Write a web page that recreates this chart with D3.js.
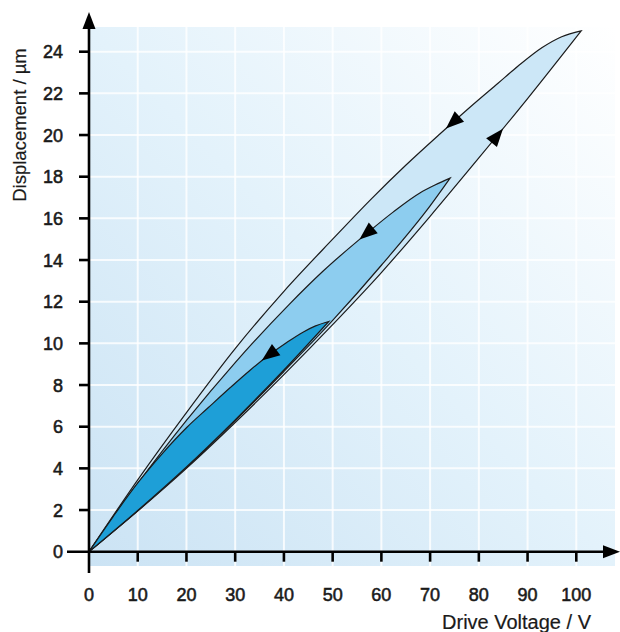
<!DOCTYPE html>
<html><head><meta charset="utf-8">
<script src="https://cdn.jsdelivr.net/npm/d3@7"></script>
<style>body{margin:0;background:#fff}svg{display:block}text{font-family:"Liberation Sans",Arial,Helvetica,sans-serif}</style>
</head><body><svg id="c" width="620" height="632"></svg>
<script>
// ---- data ----
const xTicks = [0,10,20,30,40,50,60,70,80,90,100];
const yTicks = [0,2,4,6,8,10,12,14,16,18,20,22,24];
const xGrid = [10,20,30,40,50,60,70,80,90,100,110];
const yGrid = [2,4,6,8,10,12,14,16,18,20,22,24];
// loops: ascending branch (0 -> tip) and descending branch (tip -> 0), [voltage V, displacement µm]
const largeAsc  = [[0,0],[10,1.95],[20,4.0],[30,6.2],[40,8.5],[50,10.9],[60,13.4],[70,16.1],[80,18.9],[90,21.75],[101,25]];
const largeDesc = [[101,25],[97,24.72],[93,24.2],[88,23.3],[84,22.5],[78,21.3],[72,20.05],[65,18.55],[58,16.95],[50,15.0],[40,12.5],[30,9.75],[20,6.68],[10,3.45],[0,0]];
const midAsc    = [[0,0],[10,1.97],[20,4.05],[30,6.3],[40,8.65],[50,11.1],[60,13.75],[70,16.6],[74.1,17.93]];
const midDesc   = [[74.1,17.93],[71,17.6],[67.9,17.22],[62.4,16.3],[57,15.28],[48,13.46],[41,11.85],[30,9.08],[20,6.3],[10,3.27],[0,0]];
const smallAsc  = [[0,0],[10,1.98],[20,4.07],[30,6.33],[40,8.72],[49.2,11.05]];
const smallDesc = [[49.2,11.05],[46.5,10.84],[44,10.55],[40.5,10.03],[37,9.45],[33,8.7],[29,7.88],[24.5,6.92],[20,5.95],[15,4.7],[10,3.3],[5,1.7],[0,0]];
// arrows: [loop, branch, voltage]
const arrowSpecs = [["large","desc",74.7],["large","asc",83.7],["mid","desc",57],["small","desc",37]];

const loops = {
  large:{asc:largeAsc, desc:largeDesc, fill:"#cce7f7"},
  mid:{asc:midAsc, desc:midDesc, fill:"#8dcdef"},
  small:{asc:smallAsc, desc:smallDesc, fill:"#1e9fd7"}
};

const svg = d3.select("#c");
const x = d3.scaleLinear().domain([0,100]).range([89,576.3]);
const y = d3.scaleLinear().domain([0,24]).range([551.7,51.7]);

// background gradient
const defs = svg.append("defs");
const g = defs.append("linearGradient").attr("id","bg").attr("x1",0).attr("y1",1).attr("x2",1).attr("y2",0);
g.append("stop").attr("offset",0).attr("stop-color","#cbe3f4");
g.append("stop").attr("offset",0.5).attr("stop-color","#e3f2fb");
g.append("stop").attr("offset",1).attr("stop-color","#ffffff");
svg.append("rect").attr("x",x(0)).attr("y",27).attr("width",615-x(0)).attr("height",566-27).attr("fill","url(#bg)");

// grid
svg.append("g").selectAll("line").data(xGrid).join("line")
  .attr("x1",d=>x(d)).attr("x2",d=>x(d)).attr("y1",27).attr("y2",566)
  .attr("stroke","#fff").attr("stroke-width",2).attr("stroke-opacity",0.8);
svg.append("g").selectAll("line").data(yGrid).join("line")
  .attr("y1",d=>y(d)).attr("y2",d=>y(d)).attr("x1",x(0)).attr("x2",615)
  .attr("stroke","#fff").attr("stroke-width",2).attr("stroke-opacity",0.8);

// loops
const line = d3.line().x(d=>x(d[0])).y(d=>y(d[1])).curve(d3.curveMonotoneX);
for (const k of ["large","mid","small"]) {
  const L = loops[k];
  const a = line(L.asc), b = line(L.desc).replace(/^M/,"L");
  svg.append("path").attr("d", a + b + "Z").attr("fill",L.fill)
    .attr("stroke","#1b1b1b").attr("stroke-width",1.2).attr("stroke-linejoin","miter");
}

// arrows on branches
const tmp = svg.append("path").attr("fill","none").attr("stroke","none");
for (const [k,br,v] of arrowSpecs) {
  tmp.attr("d", line(loops[k][br]));
  const node = tmp.node(), tot = node.getTotalLength();
  const tx = x(v);
  let best = 0, bd = 1e9;
  for (let l=0; l<=tot; l+=0.5) { const p = node.getPointAtLength(l); const dd=Math.abs(p.x-tx); if (dd<bd){bd=dd;best=l;} }
  const p = node.getPointAtLength(best);
  const p1 = node.getPointAtLength(Math.max(0,best-3)), p2 = node.getPointAtLength(Math.min(tot,best+3));
  let dx = p2.x-p1.x, dy = p2.y-p1.y; const n = Math.hypot(dx,dy); dx/=n; dy/=n;
  const nx = -dy, ny = dx;
  const tip = [p.x+dx*9.5, p.y+dy*9.5], bc = [p.x-dx*8.5, p.y-dy*8.5];
  const pts = [tip,[bc[0]+nx*7, bc[1]+ny*7],[bc[0]-nx*7, bc[1]-ny*7]];
  svg.append("path").attr("d","M"+pts.map(q=>q.join(",")).join("L")+"Z").attr("fill","#000");
}
tmp.remove();

// axes
const ax = svg.append("g").attr("stroke","#000").attr("stroke-width",2.6);
ax.append("line").attr("x1",x(0)).attr("x2",x(0)).attr("y1",573).attr("y2",24);
ax.append("line").attr("x1",67).attr("x2",608).attr("y1",y(0)).attr("y2",y(0));
svg.append("path").attr("d",`M${x(0)},12L${x(0)-6.5},29L${x(0)+6.5},29Z`).attr("fill","#000");
svg.append("path").attr("d",`M620,${y(0)}L603,${y(0)-6.5}L603,${y(0)+6.5}Z`).attr("fill","#000");

// ticks
ax.append("g").selectAll("line").data(yTicks.filter(d=>d>0)).join("line")
  .attr("x1",x(0)-10).attr("x2",x(0)).attr("y1",d=>y(d)).attr("y2",d=>y(d));
ax.append("g").selectAll("line").data(xTicks.filter(d=>d>0)).join("line")
  .attr("x1",d=>x(d)).attr("x2",d=>x(d)).attr("y1",y(0)).attr("y2",y(0)+10);

// tick labels
const tl = {fill:"#1a1a1a", stroke:"#1a1a1a", sw:0.55};
svg.append("g").selectAll("text").data(yTicks).join("text")
  .attr("x",63).attr("y",d=>y(d)).attr("dy","0.36em").attr("text-anchor","end")
  .attr("font-size",18).attr("fill",tl.fill).attr("stroke",tl.stroke).attr("stroke-width",tl.sw).text(d=>d);
svg.append("g").selectAll("text").data(xTicks).join("text")
  .attr("x",d=>x(d)).attr("y",601).attr("text-anchor","middle")
  .attr("font-size",18).attr("fill",tl.fill).attr("stroke",tl.stroke).attr("stroke-width",tl.sw).text(d=>d);

// axis titles
svg.append("text").attr("x",591).attr("y",629).attr("text-anchor","end")
  .attr("font-size",20).attr("fill","#1a1a1a").attr("stroke","#1a1a1a").attr("stroke-width",0.2).text("Drive Voltage / V");
svg.append("text").attr("transform","translate(26,125) rotate(-90)").attr("text-anchor","middle")
  .attr("font-size",18.5).attr("fill","#1a1a1a").attr("stroke","#1a1a1a").attr("stroke-width",0.2).text("Displacement / µm");
</script></body></html>
